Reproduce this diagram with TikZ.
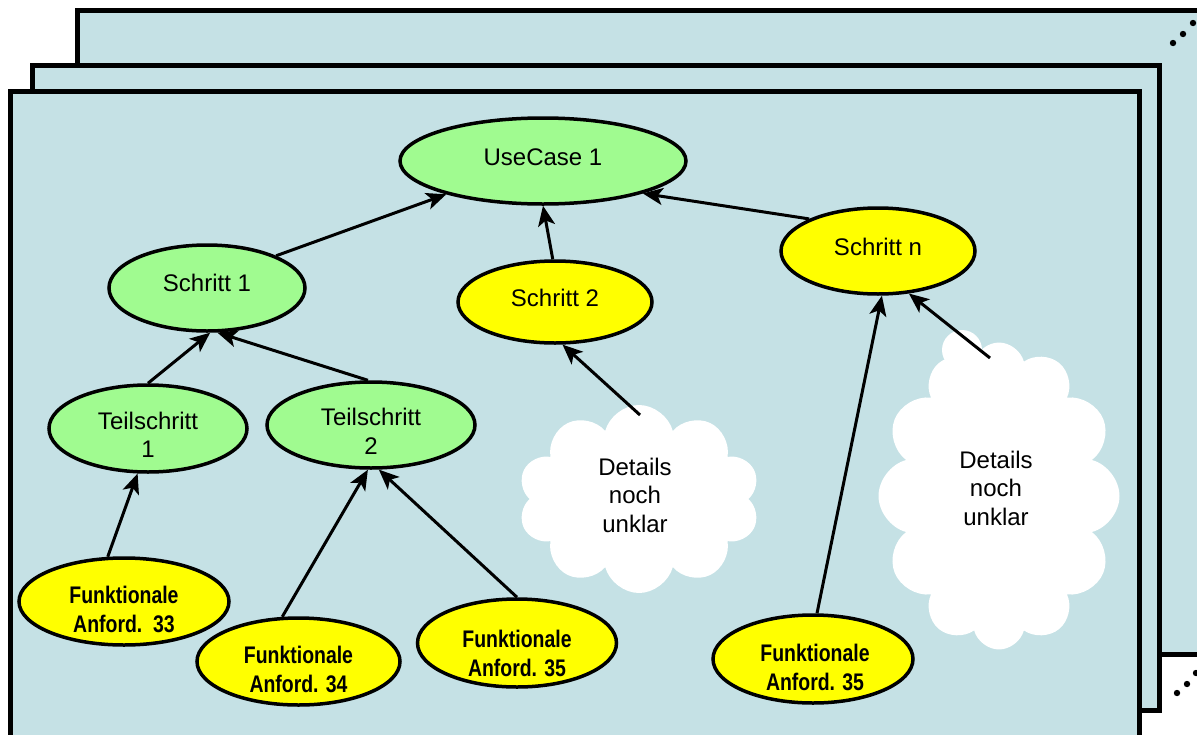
\documentclass[tikz,border=0pt]{standalone}
\usepackage{fontspec}
\setmainfont{Liberation Sans}
\newfontfamily\narrowsans[FakeStretch=0.81]{Liberation Sans}
\usetikzlibrary{shapes.geometric,shapes.symbols,arrows.meta,calc}
\definecolor{bgblue}{RGB}{197,225,229}
\definecolor{lgreen}{RGB}{160,251,144}
\definecolor{yel}{RGB}{255,255,0}
\tikzset{
  frame/.style={draw=black, fill=bgblue, line width=5pt},
  ell/.style={ellipse, draw=black, line width=3.5pt, inner sep=0pt},
  gnode/.style={ell, fill=lgreen},
  ynode/.style={ell, fill=yel},
  txt/.style={inner sep=0pt, align=center, font=\fontsize{24}{28.5}\selectfont},
  ftxt/.style={inner sep=0pt, align=center, font=\narrowsans\bfseries\fontsize{24}{29}\selectfont},
  cloudnode/.style={cloud, fill=white, draw=none, cloud ignores aspect, inner sep=0pt},
  conn/.style={line width=3pt, -{Stealth[length=20pt,width=17pt,inset=5pt]}},
  dot/.style={fill=black}
}
\begin{document}
\begin{tikzpicture}[x=1pt,y=-1pt]
\useasboundingbox (0,0) rectangle (1197,734);
\clip (0,0) rectangle (1197,734);
% stacked frames
\draw[frame] (77,10) rectangle (1260,654.5);
\draw[frame] (32,65.5) rectangle (1159.5,710.5);
\draw[frame] (10.5,91.5) rectangle (1139.5,780);
% dots
\fill[dot] (1173,43) circle (3.2pt);
\fill[dot] (1183,34) circle (3.2pt);
\fill[dot] (1193,23) circle (3.2pt);
\fill[dot] (1177,693) circle (3.2pt);
\fill[dot] (1187,684) circle (3.2pt);
\fill[dot] (1196,673) circle (3.2pt);
% clouds
\node[cloudnode, cloud puffs=10, minimum width=242pt, minimum height=188pt] (c1) at (639,499) {};
\node[cloudnode, cloud puffs=12, minimum width=241pt, minimum height=307pt] (c2) at (999,496) {};
\fill[white] (962,350) circle (20pt);
\node[txt] (c1x) at (635,495) {Details\\noch\\unklar};
\node[txt] (c2x) at (996,488) {Details\\noch\\unklar};
% ellipses
\node[gnode, minimum width=286pt, minimum height=86pt] (uc) at (543,161) {};
\node[gnode, minimum width=196pt, minimum height=86pt] (s1) at (207,288) {};
\node[ynode, minimum width=194pt, minimum height=82pt] (s2) at (555,302) {};
\node[ynode, minimum width=194pt, minimum height=86pt] (sn) at (878,251) {};
\node[gnode, minimum width=198pt, minimum height=87pt] (t1) at (148,428.5) {};
\node[gnode, minimum width=208pt, minimum height=86pt] (t2) at (371,425) {};
\node[ynode, minimum width=210pt, minimum height=87pt] (f33) at (124,601.5) {};
\node[ynode, minimum width=203pt, minimum height=87pt] (f34) at (298.5,661.5) {};
\node[ynode, minimum width=199pt, minimum height=88pt] (f35a) at (517,643) {};
\node[ynode, minimum width=200pt, minimum height=88pt] (f35b) at (813,659) {};
% texts
\node[txt] (ucx) at (543,157) {UseCase 1};
\node[txt] (s1x) at (207,283) {Schritt 1};
\node[txt] (s2x) at (555,298) {Schritt 2};
\node[txt] (snx) at (878,247) {Schritt n};
\node[txt] (t1x) at (148,435) {Teilschritt\\1};
\node[txt] (t2x) at (371,431.5) {Teilschritt\\2};
\node[ftxt] (f33x) at (124,609) {Funktionale\\Anford.\ \ 33};
\node[ftxt] (f34x) at (298.5,669) {Funktionale\\Anford. 34};
\node[ftxt] (f35ax) at (517,653) {Funktionale\\Anford. 35};
\node[ftxt] (f35bx) at (815,667) {Funktionale\\Anford. 35};
% cloud connector ends
\coordinate (c1t) at ($(c1.center)+(1,-84)$);
\coordinate (c2t) at ($(c2.center)+(-9,-138)$);
% connectors
\draw[conn] (s1.25) -- (uc.199);
\draw[conn] (s2.93) -- (uc.270);
\draw[conn] (sn.155) -- (uc.-18);
\draw[conn] (t1.90) -- (s1.-86);
\draw[conn] (t2.94) -- (s1.-77);
\draw[conn] (f33.110) -- (t1.-103);
\draw[conn] (f34.110) -- (t2.-94);
\draw[conn] (f35a.90) -- (t2.-80);
\draw[conn] (c1t) -- (s2.-80);
\draw[conn] (f35b.85) -- (sn.-85);
\draw[conn] (c2t) -- (sn.-54);
\end{tikzpicture}
\end{document}
